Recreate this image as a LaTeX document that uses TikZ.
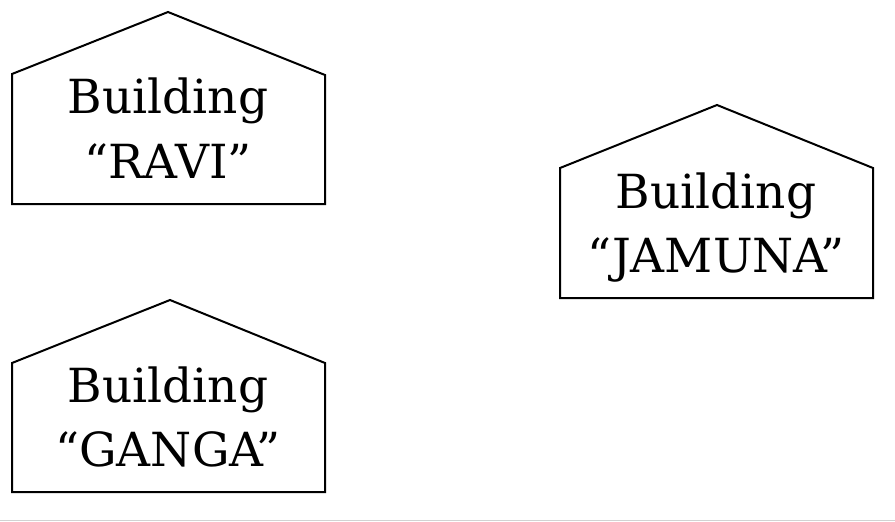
\documentclass[tikz,border=0pt]{standalone}
\usepackage{fontspec}
\newfontfamily\housefont{DejaVu Serif}
\begin{document}
\begin{tikzpicture}[x=1pt,y=-1pt,
  house/.style={draw=black,line width=2pt,line join=miter},
  lbl/.style={inner sep=0pt,anchor=base,font=\housefont\fontsize{47}{65}\selectfont}]
\useasboundingbox (0,0) rectangle (895,522);
% RAVI
\draw[house] (12,204) -- (12,74) -- (168,12) -- (325,75) -- (325,204) -- cycle;
\node[lbl] (ravi1) at (168,113) {Building};
\node[lbl] (ravi2) at (168,178) {“RAVI”};
% JAMUNA
\draw[house] (560,298) -- (560,168) -- (717,105) -- (873,168) -- (873,298) -- cycle;
\node[lbl] (jam1) at (716,208) {Building};
\node[lbl] (jam2) at (716,272) {“JAMUNA”};
% GANGA
\draw[house] (12,492) -- (12,363) -- (170,300) -- (325,363) -- (325,492) -- cycle;
\node[lbl] (gan1) at (168,402) {Building};
\node[lbl] (gan2) at (168,466) {“GANGA”};
% faint scan edge
\draw[gray!35,line width=1pt] (0,520) -- (895,520);
\end{tikzpicture}
\end{document}
